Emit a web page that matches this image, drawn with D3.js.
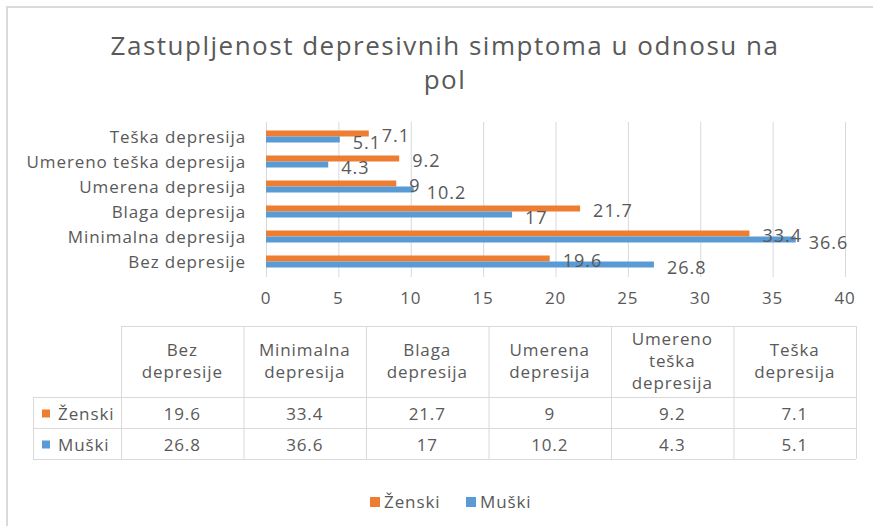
<!DOCTYPE html>
<html>
<head>
<meta charset="utf-8">
<script src="https://cdn.jsdelivr.net/npm/d3@7"></script>
<style>
  body { margin: 0; background: #fff; }
  svg { display: block; font-family: "Open Sans", sans-serif; }
  .lbl { fill: #595959; font-size: 17px; letter-spacing: 0.9px; }
  .dl { fill: #595959; font-size: 18px; letter-spacing: 1px; }
  .grid line { stroke: #d9d9d9; }
  .grid path { display: none; }
</style>
</head>
<body>
<div id="chart"></div>
<script>
var categories = ["Bez depresije", "Minimalna depresija", "Blaga depresija",
    "Umerena depresija", "Umereno teška depresija", "Teška depresija"];
var zenski = [19.6, 33.4, 21.7, 9, 9.2, 7.1];
var muski = [26.8, 36.6, 17, 10.2, 4.3, 5.1];
var headerLines = [["Bez", "depresije"], ["Minimalna", "depresija"], ["Blaga", "depresija"],
    ["Umerena", "depresija"], ["Umereno", "teška", "depresija"], ["Teška", "depresija"]];
var xTicks = [0, 5, 10, 15, 20, 25, 30, 35, 40];
var seriesNames = ["Ženski", "Muški"];
var colors = ["#ed7d31", "#5b9bd5"];

var W = 873, H = 526;
var svg = d3.select("#chart").append("svg").attr("width", W).attr("height", H);

// frame (only top and left edges are in the picture)
svg.append("line").attr("x1", 7).attr("x2", W).attr("y1", 7).attr("y2", 7)
    .attr("stroke", "#dadada").attr("stroke-width", 2);
svg.append("line").attr("x1", 7).attr("x2", 7).attr("y1", 6).attr("y2", H)
    .attr("stroke", "#dadada").attr("stroke-width", 2);

// title
var title = svg.append("text").attr("text-anchor", "middle")
    .style("fill", "#595959").style("font-size", "26px").style("letter-spacing", "1.5px");
title.append("tspan").attr("x", 445).attr("y", 55).text("Zastupljenost depresivnih simptoma u odnosu na");
title.append("tspan").attr("x", 445).attr("y", 89).text("pol");

var x = d3.scaleLinear().domain([0, 40]).range([266, 845]);
var y = d3.scaleBand().domain(categories.slice().reverse()).range([124, 274]);
var plotTop = 122, plotBottom = 277;

// vertical gridlines
svg.append("g").attr("class", "grid")
    .attr("transform", "translate(0," + plotBottom + ")")
    .call(d3.axisBottom(x).tickValues(xTicks).tickSize(-(plotBottom - plotTop)).tickFormat(""));

// x tick labels
svg.selectAll(".xt").data(xTicks).enter().append("text")
    .attr("class", "lbl")
    .attr("x", function (d) { return x(d); })
    .attr("y", 304)
    .attr("text-anchor", "middle")
    .text(function (d) { return d; });

// category labels
svg.selectAll(".cat").data(categories).enter().append("text")
    .attr("class", "lbl")
    .attr("x", 246)
    .attr("y", function (d) { return y(d) + y.bandwidth() / 2 + 6; })
    .attr("text-anchor", "end")
    .text(function (d) { return d; });

var barH = 6;
function barY(i, s) { return y(categories[i]) + y.bandwidth() / 2 - barH + s * barH; }

[zenski, muski].forEach(function (vals, s) {
    svg.append("g").selectAll("rect").data(vals).enter().append("rect")
        .attr("x", x(0))
        .attr("y", function (d, i) { return barY(i, s); })
        .attr("width", function (d) { return x(d) - x(0); })
        .attr("height", barH)
        .attr("fill", colors[s]);
});
// data labels on top of the bars
[zenski, muski].forEach(function (vals, s) {
    svg.append("g").selectAll("text").data(vals).enter().append("text")
        .attr("class", "dl")
        .attr("x", function (d) { return x(d) + 13; })
        .attr("y", function (d, i) { return barY(i, s) + barH / 2 + 8.5 + s; })
        .text(function (d) { return d; });
});

// data table
var col = d3.scaleBand().domain(categories).range([121, 856]);
var tTop = 326, tHead = 397, rowH = 31;
var tb = svg.append("g").attr("stroke", "#d9d9d9").attr("stroke-width", 1);
tb.append("line").attr("x1", 121).attr("x2", 856).attr("y1", tTop + 0.5).attr("y2", tTop + 0.5);
[tHead, tHead + rowH, tHead + 2 * rowH].forEach(function (yy) {
    tb.append("line").attr("x1", 33).attr("x2", 856).attr("y1", yy + 0.5).attr("y2", yy + 0.5);
});
tb.append("line").attr("x1", 33.5).attr("x2", 33.5).attr("y1", tHead).attr("y2", tHead + 2 * rowH);
categories.forEach(function (c) {
    tb.append("line").attr("x1", col(c) + 0.5).attr("x2", col(c) + 0.5).attr("y1", tTop).attr("y2", tHead + 2 * rowH);
});
tb.append("line").attr("x1", 856.5).attr("x2", 856.5).attr("y1", tTop).attr("y2", tHead + 2 * rowH);

// header cells
categories.forEach(function (c, i) {
    var lines = headerLines[i];
    var cy = (tTop + tHead) / 2;
    var t = svg.append("text").attr("class", "lbl").attr("text-anchor", "middle");
    lines.forEach(function (ln, k) {
        t.append("tspan")
            .attr("x", col(c) + col.bandwidth() / 2)
            .attr("y", cy + (k - (lines.length - 1) / 2) * 22 + 5)
            .text(ln);
    });
});

// value rows
[zenski, muski].forEach(function (vals, s) {
    var ry = tHead + s * rowH + rowH / 2;
    svg.append("rect").attr("x", 42).attr("y", ry - 3).attr("width", 8).attr("height", 8).attr("fill", colors[s]);
    svg.append("text").attr("class", "lbl").attr("x", 58).attr("y", ry + 7).text(seriesNames[s]);
    svg.selectAll(".v" + s).data(vals).enter().append("text")
        .attr("class", "lbl")
        .attr("text-anchor", "middle")
        .attr("x", function (d, i) { return col(categories[i]) + col.bandwidth() / 2; })
        .attr("y", ry + 7)
        .text(function (d) { return d; });
});

// legend
var legX = [370, 466];
seriesNames.forEach(function (n, s) {
    svg.append("rect").attr("x", legX[s]).attr("y", 497).attr("width", 10).attr("height", 10).attr("fill", colors[s]);
    svg.append("text").attr("class", "lbl").attr("x", legX[s] + 14).attr("y", 508).text(n);
});
</script>
</body>
</html>
